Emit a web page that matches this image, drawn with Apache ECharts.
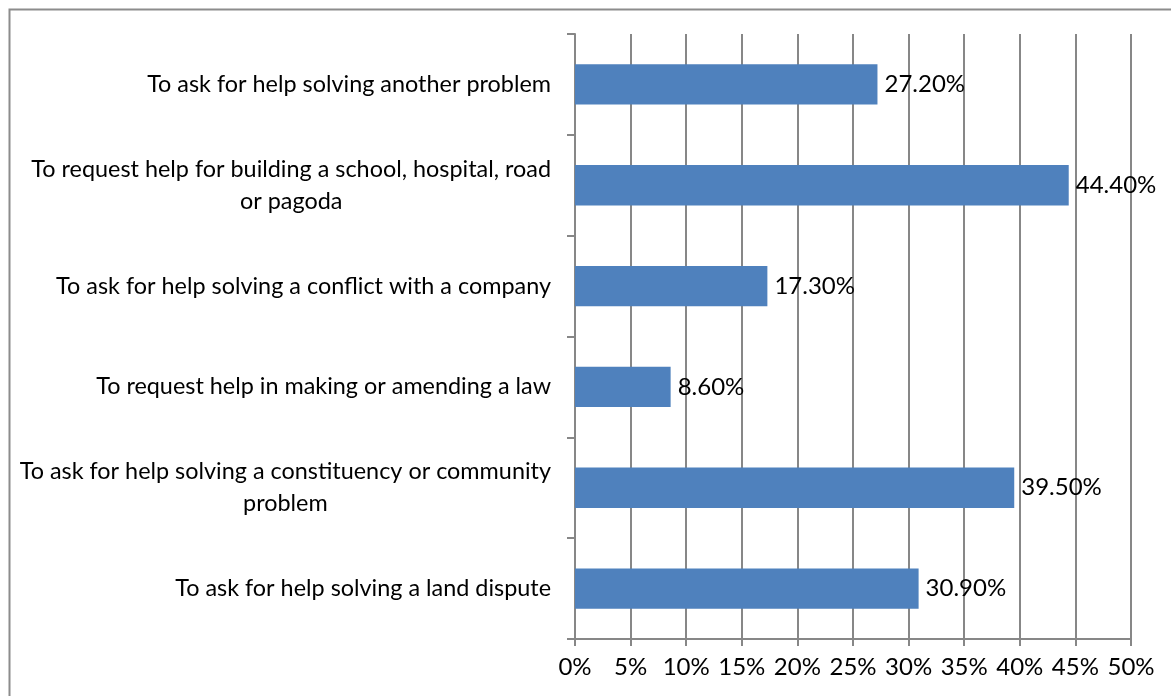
<!DOCTYPE html>
<html>
<head>
<meta charset="utf-8">
<script src="https://cdn.jsdelivr.net/npm/echarts@6/dist/echarts.min.js"></script>
<style>
html,body{margin:0;padding:0;background:#fff;}
#chart{width:1171px;height:696px;}
</style>
</head>
<body>
<div id="chart"></div>
<script>
const categories = [
  "To ask for help solving another problem",
  "To request help for building a school, hospital, road\nor pagoda",
  "To ask for help solving a conflict with a company",
  "To request help in making or amending a law",
  "To ask for help solving a constituency or community\nproblem",
  "To ask for help solving a land dispute"
];
const values = [27.2, 44.4, 17.3, 8.6, 39.5, 30.9];
const axisMin = 0, axisMax = 50, axisStep = 5;

const FONT = 'Lato';
const GRIDC = '#878787';
const chart = echarts.init(document.getElementById('chart'), null, {renderer: 'canvas'});
chart.setOption({
  animation: false,
  backgroundColor: '#fff',
  graphic: [{
    type: 'rect', left: 7, top: 7, z: 100,
    shape: {x: 0, y: 0, width: 1200, height: 720},
    style: {fill: 'none', stroke: '#8c8c8c', lineWidth: 2}
  }],
  grid: {left: 575, right: 40, top: 34, bottom: 57, containLabel: false},
  xAxis: {
    type: 'value', min: axisMin, max: axisMax, interval: axisStep,
    axisLine: {show: true, lineStyle: {color: GRIDC, width: 2}},
    axisTick: {show: true, length: 7, lineStyle: {color: GRIDC, width: 2}},
    splitLine: {show: true, lineStyle: {color: GRIDC, width: 2}},
    axisLabel: {formatter: '{value}%', color: '#000', fontFamily: FONT, fontSize: 24, margin: 16}
  },
  yAxis: {
    type: 'category', inverse: true, data: categories,
    axisLine: {show: true, lineStyle: {color: GRIDC, width: 2}},
    axisTick: {show: true, length: 8, lineStyle: {color: GRIDC, width: 2}},
    axisLabel: {
      color: '#000', fontFamily: FONT, fontSize: 23.4, margin: 24, lineHeight: 32,
      formatter: function (v) { return v.split('\n').map(l => '{c|' + l + '}').join('\n'); },
      rich: {c: {align: 'center', color: '#000', fontFamily: FONT, fontSize: 23.4, lineHeight: 32}}
    }
  },
  series: [{
    type: 'bar', data: values, barCategoryGap: '60%',
    itemStyle: {color: '#4F81BD'},
    label: {
      show: true, position: 'right', distance: 7, color: '#000',
      fontFamily: FONT, fontSize: 24,
      formatter: p => p.value.toFixed(2) + '%'
    }
  }]
});
</script>
</body>
</html>
